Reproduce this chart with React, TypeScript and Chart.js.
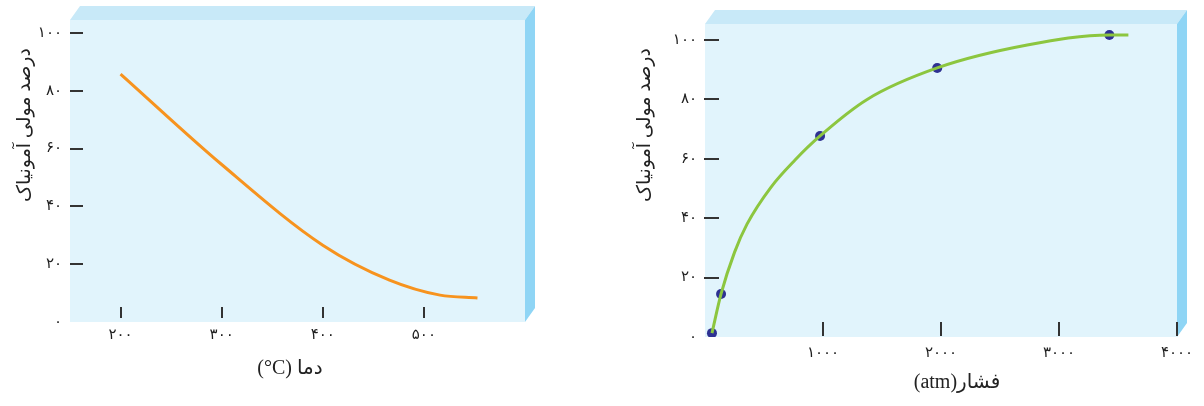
import { useEffect, useRef } from 'react';
import { Chart, registerables } from 'chart.js';

Chart.register(...registerables);

// ---------- data ----------
const tempTicks = [200, 300, 400, 500];
const tempYTicks = [0, 20, 40, 60, 80, 100];
const tempC = [200, 300, 400, 466, 516, 553];
const tempPct = [85.8, 54.5, 26.6, 14.5, 9.3, 8.3];

const pressTicks = [1000, 2000, 3000, 4000];
const pressYTicks = [0, 20, 40, 60, 80, 100];
const pressCurveAtm = [59, 136, 250, 356, 560, 763, 975, 1374, 1968, 2731, 3427, 3588];
const pressCurvePct = [1.3, 14.5, 28.5, 38, 50.5, 59.6, 67.7, 80, 90.6, 98.3, 101.7, 101.7];
const pressPointAtm = [59, 136, 975, 1968, 3427];
const pressPointPct = [1.3, 14.5, 67.7, 90.6, 101.7];

const yTitle = 'درصد مولی آمونیاک';
const tempTitle = '(°C) دما';
const pressTitle = '(atm)فشار';

const FA = '۰۱۲۳۴۵۶۷۸۹';
const fa = (v: number | string) => String(v).replace(/\d/g, (d) => FA[+d]);

const TICK_FONT = { family: '"DejaVu Sans", sans-serif', size: 15 };
const X_TITLE_FONT = '20px "Liberation Serif", "DejaVu Sans", serif';
const Y_TITLE_FONT = '19px "Liberation Serif", "DejaVu Sans", serif';

const panelPlugin = {
  id: 'panel',
  beforeDatasetsDraw(chart: any, _args: any, o: any) {
    const { ctx } = chart;
    const { left, right, top, bottom } = chart.chartArea;
    const { dx, dy } = o;
    ctx.save();
    ctx.fillStyle = '#e1f4fc';
    ctx.fillRect(left, top, right - left, bottom - top);
    ctx.fillStyle = '#c8e9f8';
    ctx.beginPath();
    ctx.moveTo(left, top);
    ctx.lineTo(left + dx, top + dy);
    ctx.lineTo(right + dx, top + dy);
    ctx.lineTo(right, top);
    ctx.closePath();
    ctx.fill();
    ctx.fillStyle = '#8fd5f5';
    ctx.beginPath();
    ctx.moveTo(right, top);
    ctx.lineTo(right + dx, top + dy);
    ctx.lineTo(right + dx, bottom + dy);
    ctx.lineTo(right, bottom);
    ctx.closePath();
    ctx.fill();

    const xs = chart.scales.x;
    const ys = chart.scales.y;
    ctx.strokeStyle = '#333';
    ctx.lineWidth = 2;
    ctx.beginPath();
    for (const v of o.yMarks) {
      const py = Math.round(ys.getPixelForValue(v));
      ctx.moveTo(left + o.yMarkFrom, py);
      ctx.lineTo(left + o.yMarkTo, py);
    }
    for (const v of o.xMarks) {
      const px = Math.round(xs.getPixelForValue(v));
      ctx.moveTo(px, bottom - o.xMarkFrom);
      ctx.lineTo(px, bottom - o.xMarkTo);
    }
    ctx.stroke();
    ctx.restore();
  },
  afterDraw(chart: any, _args: any, o: any) {
    const { ctx } = chart;
    ctx.save();
    ctx.fillStyle = '#222';
    ctx.textAlign = 'center';
    ctx.textBaseline = 'middle';
    (ctx as any).direction = 'ltr';
    ctx.font = X_TITLE_FONT;
    ctx.fillText(o.xTitle, o.xTitleX, o.xTitleY);
    ctx.font = Y_TITLE_FONT;
    (ctx as any).direction = 'rtl';
    ctx.translate(o.yTitleX, o.yTitleY);
    ctx.rotate(-Math.PI / 2);
    ctx.fillText(o.yTitle, 0, 0);
    ctx.restore();
  },
};

function makeConfig(p: any): any {
  return {
    type: 'line',
    data: { datasets: p.datasets },
    plugins: [panelPlugin],
    options: {
      responsive: false,
      animation: false,
      devicePixelRatio: 1,
      layout: { padding: p.padding },
      plugins: {
        legend: { display: false },
        tooltip: { enabled: false },
        panel: p.panel,
      },
      scales: {
        x: {
          type: 'linear',
          min: p.xMin,
          max: p.xMax,
          afterBuildTicks: (s: any) => {
            s.ticks = p.xTicks.map((v: number) => ({ value: v }));
          },
          afterFit: (s: any) => {
            s.height = p.xHeight;
          },
          grid: { display: false, drawTicks: false },
          border: { display: false },
          ticks: {
            autoSkip: false,
            maxRotation: 0,
            padding: p.xPad,
            color: '#1e1e1e',
            font: TICK_FONT,
            callback: (v: number) => fa(v),
          },
        },
        y: {
          type: 'linear',
          min: 0,
          max: p.yMax,
          afterBuildTicks: (s: any) => {
            s.ticks = p.yTicks.map((v: number) => ({ value: v }));
          },
          afterFit: (s: any) => {
            s.width = p.yWidth;
          },
          grid: { display: false, drawTicks: false },
          border: { display: false },
          ticks: {
            padding: 8,
            color: '#1e1e1e',
            font: TICK_FONT,
            callback: (v: number) => fa(v),
          },
        },
      },
    },
  };
}

function ChartCanvas({ config, left, width }: { config: any; left: number; width: number }) {
  const ref = useRef<HTMLCanvasElement>(null);
  useEffect(() => {
    if (!ref.current) return;
    const c = new Chart(ref.current, config);
    return () => c.destroy();
  }, [config]);
  return (
    <canvas
      ref={ref}
      width={width}
      height={406}
      style={{ position: 'absolute', left, top: 0, width, height: 406 }}
    />
  );
}

const leftConfig = makeConfig({
  datasets: [
    {
      data: tempC.map((x, i) => ({ x, y: tempPct[i] })),
      borderColor: '#f7931e',
      borderWidth: 3,
      pointRadius: 0,
      cubicInterpolationMode: 'monotone',
      fill: false,
    },
  ],
  padding: { left: 0, top: 20, right: 75, bottom: 0 },
  xMin: 150,
  xMax: 600,
  xTicks: tempTicks,
  yTicks: tempYTicks,
  yMax: 104.5,
  xHeight: 84,
  yWidth: 70,
  xPad: 4,
  panel: {
    dx: 10,
    dy: -14,
    yMarks: [20, 40, 60, 80, 100],
    yMarkFrom: 0,
    yMarkTo: 13,
    xMarks: tempTicks,
    xMarkFrom: 15,
    xMarkTo: 4,
    xTitle: tempTitle,
    xTitleX: 290,
    xTitleY: 369,
    yTitle,
    yTitleX: 25,
    yTitleY: 125,
  },
});

const rightConfig = makeConfig({
  datasets: [
    {
      data: pressCurveAtm.map((x, i) => ({ x, y: pressCurvePct[i] })),
      borderColor: '#8cc63f',
      borderWidth: 3,
      pointRadius: 0,
      cubicInterpolationMode: 'monotone',
      fill: false,
    },
    {
      data: pressPointAtm.map((x, i) => ({ x, y: pressPointPct[i] })),
      showLine: false,
      pointRadius: 5,
      pointBackgroundColor: '#2e3192',
      pointBorderColor: '#2e3192',
      pointBorderWidth: 0,
    },
  ],
  padding: { left: 0, top: 24, right: 27, bottom: 0 },
  xMin: 0,
  xMax: 4000,
  xTicks: pressTicks,
  yTicks: pressYTicks,
  yMax: 105.4,
  xHeight: 69,
  yWidth: 105,
  xPad: 7,
  panel: {
    dx: 10,
    dy: -14,
    yMarks: [20, 40, 60, 80, 100],
    yMarkFrom: -1,
    yMarkTo: 14,
    xMarks: pressTicks,
    xMarkFrom: 15,
    xMarkTo: 1,
    xTitle: pressTitle,
    xTitleX: 357,
    xTitleY: 383,
    yTitle,
    yTitleX: 45,
    yTitleY: 125,
  },
});

export default function App() {
  return (
    <div style={{ position: 'absolute', left: 0, top: 0, width: 1204, height: 406, background: '#fff' }}>
      <ChartCanvas config={leftConfig} left={0} width={600} />
      <ChartCanvas config={rightConfig} left={600} width={604} />
    </div>
  );
}
